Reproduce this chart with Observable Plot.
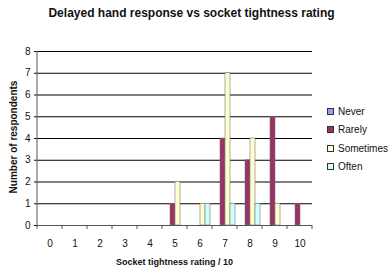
<!DOCTYPE html>
<html><head><meta charset="utf-8">
<script src="https://cdn.jsdelivr.net/npm/d3@7"></script>
<script src="https://cdn.jsdelivr.net/npm/@observablehq/plot@0.6"></script>
<style>
body{margin:0;background:#fff;font-family:"Liberation Sans",Arial,sans-serif;}
#wrap{position:relative;width:392px;height:276px;overflow:hidden;}
#chart{position:absolute;left:0;top:0;}
#title{position:absolute;left:0;top:6px;width:383px;text-align:center;font-weight:bold;font-size:12px;color:#111;}
#xtitle{position:absolute;left:33px;width:283px;top:257px;text-align:center;font-weight:bold;font-size:9px;color:#111;}
#ytitle{position:absolute;left:13px;top:137px;transform:translate(-50%,-50%) rotate(-90deg);white-space:nowrap;font-weight:bold;font-size:10px;color:#111;}
#legend{position:absolute;left:327px;top:102px;font-size:10px;color:#111;}
.item{display:flex;align-items:center;height:18.5px;}
.sw{width:5px;height:5px;border:1px solid #333;margin-right:4px;}
</style></head>
<body>
<div id="wrap">
  <div id="chart"></div>
  <div id="title">Delayed hand response vs socket tightness rating</div>
  <div id="xtitle">Socket tightness rating / 10</div>
  <div id="ytitle">Number of respondents</div>
  <div id="legend"></div>
</div>
<script>
const ratings = [0,1,2,3,4,5,6,7,8,9,10];
const series = ["Never","Rarely","Sometimes","Often"];
const never     = [0,0,0,0,0,0,0,0,0,0,0];
const rarely    = [0,0,0,0,0,1,0,4,3,5,1];
const sometimes = [0,0,0,0,0,2,1,7,4,1,0];
const often     = [0,0,0,0,0,0,1,1,1,0,0];
const colors = ["#9999ff","#993366","#ffffcc","#ccffff"];
const yTicks = [0,1,2,3,4,5,6,7,8];

const valuesBySeries = [never, rarely, sometimes, often];
const table = [];
ratings.forEach((r, i) => series.forEach((s, j) => table.push({rating: r, series: s, value: valuesBySeries[j][i]})));

const plot = Plot.plot({
  width: 392, height: 276,
  marginTop: 51, marginBottom: 51, marginLeft: 33, marginRight: 76,
  style: {fontFamily: "Liberation Sans, Arial, sans-serif", fontSize: "10px", color: "#111", background: "transparent"},
  fx: {domain: ratings, padding: 0, tickSize: 0, tickPadding: 14, label: null},
  x: {domain: series, paddingInner: 0, paddingOuter: 0.43, axis: null},
  y: {domain: [0, 8], ticks: yTicks, tickSize: 3, tickPadding: 4, label: null},
  color: {domain: series, range: colors},
  marks: [
    Plot.ruleY(yTicks, {stroke: "#000", strokeWidth: 1}),
    Plot.barY(table, {fx: "rating", x: "series", y: "value", fill: "series", stroke: "#777", strokeWidth: 0.6}),
    Plot.ruleY([0], {stroke: "#555", strokeWidth: 1})
  ]
});
document.getElementById("chart").appendChild(plot);

// y-axis line and between-category tick marks, from the plot's own scales
const fx = plot.scale("fx"), y = plot.scale("y");
const svg = d3.select(plot);
const left = fx.apply(ratings[0]);
const g = svg.append("g").attr("stroke", "#555").attr("stroke-width", 1);
g.append("line").attr("x1", left).attr("x2", left).attr("y1", y.apply(8)).attr("y2", y.apply(0));
const bounds = ratings.map(r => fx.apply(r)).concat([fx.apply(ratings[ratings.length-1]) + fx.bandwidth]);
bounds.forEach(b => g.append("line").attr("x1", b).attr("x2", b).attr("y1", y.apply(0)).attr("y2", y.apply(0) + 4));

// legend
const leg = document.getElementById("legend");
series.forEach((s, i) => {
  const it = document.createElement("div"); it.className = "item";
  const sw = document.createElement("span"); sw.className = "sw"; sw.style.background = colors[i];
  const t = document.createElement("span"); t.textContent = s;
  it.appendChild(sw); it.appendChild(t); leg.appendChild(it);
});
</script>
</body></html>
